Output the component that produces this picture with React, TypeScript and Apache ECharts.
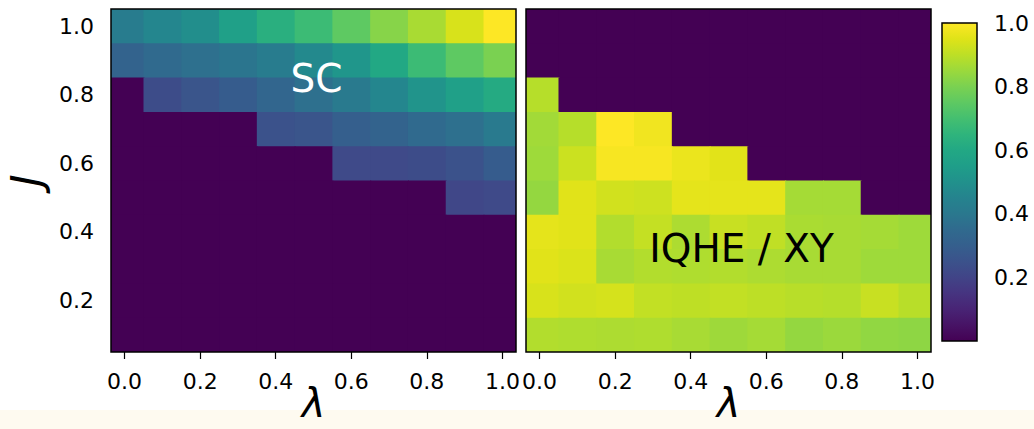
import React, { useEffect, useRef } from 'react';
import * as echarts from 'echarts';

const LAMBDA = [0.0, 0.1, 0.2, 0.3, 0.4, 0.5, 0.6, 0.7, 0.8, 0.9, 1.0];
const J_ROWS = [1.0, 0.9, 0.8, 0.7, 0.6, 0.5, 0.4, 0.3, 0.2, 0.1];

// rows follow J_ROWS (top to bottom), columns follow LAMBDA
const SC_VALUES = [
  [0.42, 0.46, 0.49, 0.56, 0.63, 0.68, 0.75, 0.82, 0.87, 0.94, 1.00],
  [0.32, 0.35, 0.37, 0.39, 0.42, 0.47, 0.52, 0.60, 0.68, 0.75, 0.80],
  [0.00, 0.23, 0.26, 0.29, 0.33, 0.37, 0.41, 0.46, 0.51, 0.56, 0.61],
  [0.00, 0.00, 0.00, 0.00, 0.25, 0.26, 0.30, 0.32, 0.35, 0.37, 0.41],
  [0.00, 0.00, 0.00, 0.00, 0.00, 0.00, 0.22, 0.22, 0.23, 0.25, 0.29],
  [0.00, 0.00, 0.00, 0.00, 0.00, 0.00, 0.00, 0.00, 0.00, 0.21, 0.22],
  [0.00, 0.00, 0.00, 0.00, 0.00, 0.00, 0.00, 0.00, 0.00, 0.00, 0.00],
  [0.00, 0.00, 0.00, 0.00, 0.00, 0.00, 0.00, 0.00, 0.00, 0.00, 0.00],
  [0.00, 0.00, 0.00, 0.00, 0.00, 0.00, 0.00, 0.00, 0.00, 0.00, 0.00],
  [0.00, 0.00, 0.00, 0.00, 0.00, 0.00, 0.00, 0.00, 0.00, 0.00, 0.00],
];

const IQHE_VALUES = [
  [0.00, 0.00, 0.00, 0.00, 0.00, 0.00, 0.00, 0.00, 0.00, 0.00, 0.00],
  [0.00, 0.00, 0.00, 0.00, 0.00, 0.00, 0.00, 0.00, 0.00, 0.00, 0.00],
  [0.89, 0.00, 0.00, 0.00, 0.00, 0.00, 0.00, 0.00, 0.00, 0.00, 0.00],
  [0.86, 0.89, 1.00, 0.98, 0.00, 0.00, 0.00, 0.00, 0.00, 0.00, 0.00],
  [0.855, 0.92, 0.99, 0.99, 0.97, 0.955, 0.00, 0.00, 0.00, 0.00, 0.00],
  [0.84, 0.953, 0.93, 0.923, 0.96, 0.96, 0.96, 0.864, 0.864, 0.00, 0.00],
  [0.96, 0.953, 0.884, 0.91, 0.876, 0.916, 0.904, 0.872, 0.869, 0.864, 0.855],
  [0.953, 0.944, 0.869, 0.884, 0.88, 0.884, 0.876, 0.869, 0.869, 0.855, 0.855],
  [0.94, 0.93, 0.935, 0.907, 0.902, 0.907, 0.90, 0.893, 0.888, 0.916, 0.893],
  [0.884, 0.88, 0.876, 0.88, 0.869, 0.854, 0.864, 0.84, 0.85, 0.835, 0.83],
];

const X_TICKS = [0.0, 0.2, 0.4, 0.6, 0.8, 1.0];
const J_TICKS = [0.2, 0.4, 0.6, 0.8, 1.0];
const CBAR_TICKS = [0.2, 0.4, 0.6, 0.8, 1.0];
const CBAR_RANGE = [0, 1];

const VIRIDIS = [
  '#440154', '#471365', '#482475', '#463480', '#414487', '#3b528b', '#355f8d',
  '#306a8e', '#2a788e', '#25838e', '#21918c', '#1f9e89', '#22a884', '#2fb47c',
  '#44bf70', '#5ec962', '#7ad151', '#9bd93c', '#bddf26', '#dfe318', '#fde725',
];

const FONT = 'DejaVu Sans';

function toCells(values: number[][]) {
  const out: number[][] = [];
  values.forEach((row, r) => {
    row.forEach((v, c) => out.push([LAMBDA[c], J_ROWS[r], v]));
  });
  return out;
}

const DX = LAMBDA[1] - LAMBDA[0];
const DY = J_ROWS[0] - J_ROWS[1];

function renderCell(params: any, api: any) {
  const x = api.value(0);
  const y = api.value(1);
  const p0 = api.coord([x - DX / 2, y + DY / 2]);
  const p1 = api.coord([x + DX / 2, y - DY / 2]);
  const cs = params.coordSys;
  // overlap by one pixel to the right and below to hide anti-aliasing seams
  const shape = echarts.graphic.clipRectByRect(
    { x: p0[0], y: p0[1], width: p1[0] - p0[0] + 1, height: p1[1] - p0[1] + 1 },
    { x: cs.x, y: cs.y, width: cs.width, height: cs.height }
  );
  if (!shape) return null;
  const c = api.visual('color');
  return { type: 'rect', shape, style: { fill: c } };
}

function renderColorbar(params: any, api: any) {
  const lo = api.value(0);
  const hi = api.value(1);
  const p0 = api.coord([0, hi]);
  const p1 = api.coord([1, lo]);
  const stops = VIRIDIS.map((color, i) => ({ offset: i / (VIRIDIS.length - 1), color }));
  return {
    type: 'rect',
    shape: { x: p0[0], y: p0[1], width: p1[0] - p0[0], height: p1[1] - p0[1] },
    style: {
      fill: new echarts.graphic.LinearGradient(0, 1, 0, 0, stops),
      stroke: '#000',
      lineWidth: 1.5,
    },
  };
}

const fmt = (v: number) => v.toFixed(1);

function xAxis(gridIndex: number) {
  return {
    type: 'value',
    gridIndex,
    min: -0.036,
    max: 1.036,
    axisLine: { show: false },
    axisTick: { show: true, customValues: X_TICKS, length: 7, lineStyle: { color: '#000', width: 1.2 } },
    axisLabel: { customValues: X_TICKS, formatter: fmt, fontSize: 22, color: '#000', fontFamily: FONT, margin: 18 },
    splitLine: { show: false },
    name: 'λ',
    nameLocation: 'middle',
    nameGap: 31,
    nameMoveOverlap: false,
    nameTextStyle: { fontSize: 40, fontStyle: 'italic', fontFamily: FONT, color: '#000' },
  };
}

function yAxis(gridIndex: number, withLabels: boolean) {
  return {
    type: 'value',
    gridIndex,
    min: 0.05,
    max: 1.05,
    axisLine: { show: false },
    axisTick: { show: true, customValues: J_TICKS, length: 7, lineStyle: { color: '#000', width: 1.2 } },
    axisLabel: { show: withLabels, customValues: J_TICKS, formatter: fmt, fontSize: 22, color: '#000', fontFamily: FONT, margin: 17 },
    splitLine: { show: false },
    ...(withLabels
      ? {
          name: 'J',
          nameLocation: 'middle',
          nameRotate: 90,
          nameGap: 64,
          nameTextStyle: { fontSize: 42, fontStyle: 'italic', fontFamily: FONT, color: '#000' },
        }
      : {}),
  };
}

export default function App() {
  const ref = useRef<HTMLDivElement>(null);

  useEffect(() => {
    document.body.style.margin = '0';
    const chart = echarts.init(ref.current!, null, { renderer: 'svg' });
    const gridStyle = {
      show: true,
      z: 10,
      borderColor: '#000',
      borderWidth: 1.5,
      backgroundColor: 'transparent',
      containLabel: false,
      outerBoundsMode: 'none',
    };
    chart.setOption({
      animation: false,
      backgroundColor: '#fff',
      textStyle: { fontFamily: FONT },
      grid: [
        { ...gridStyle, left: 111, top: 9, width: 405, height: 343 },
        { ...gridStyle, left: 526, top: 9, width: 405, height: 343 },
        { show: false, containLabel: false, outerBoundsMode: 'none', left: 942, top: 23, width: 35, height: 318 },
      ],
      xAxis: [
        xAxis(0),
        xAxis(1),
        { type: 'value', gridIndex: 2, min: 0, max: 1, show: false },
      ],
      yAxis: [
        yAxis(0, true),
        yAxis(1, false),
        {
          type: 'value',
          gridIndex: 2,
          min: CBAR_RANGE[0],
          max: CBAR_RANGE[1],
          position: 'right',
          axisLine: { show: false },
          axisTick: { show: true, customValues: CBAR_TICKS, length: 6, lineStyle: { color: '#000', width: 1.2 } },
          axisLabel: { customValues: CBAR_TICKS, formatter: fmt, fontSize: 22, color: '#000', fontFamily: FONT, margin: 17 },
          splitLine: { show: false },
        },
      ],
      visualMap: {
        type: 'continuous',
        show: false,
        min: 0,
        max: 1,
        dimension: 2,
        seriesIndex: [0, 1],
        inRange: { color: VIRIDIS },
      },
      series: [
        {
          type: 'custom',
          xAxisIndex: 0,
          yAxisIndex: 0,
          renderItem: renderCell,
          encode: { x: 0, y: 1 },
          data: toCells(SC_VALUES),
        },
        {
          type: 'custom',
          xAxisIndex: 1,
          yAxisIndex: 1,
          renderItem: renderCell,
          encode: { x: 0, y: 1 },
          data: toCells(IQHE_VALUES),
        },
        {
          type: 'custom',
          xAxisIndex: 2,
          yAxisIndex: 2,
          renderItem: renderColorbar,
          data: [CBAR_RANGE],
        },
      ],
      graphic: [
        {
          type: 'rect',
          left: 0,
          top: 410,
          z: -10,
          shape: { width: 1034, height: 19 },
          style: { fill: '#fefaf0' },
        },
        {
          type: 'text',
          x: 316.5,
          y: 78,
          z: 50,
          style: { text: 'SC', fill: '#fff', fontSize: 39, fontFamily: FONT, align: 'center', verticalAlign: 'middle' },
        },
        {
          type: 'text',
          x: 741.5,
          y: 248,
          z: 50,
          style: { text: 'IQHE / XY', fill: '#000', fontSize: 39, fontFamily: FONT, align: 'center', verticalAlign: 'middle' },
        },
      ],
    });
    return () => chart.dispose();
  }, []);

  return <div ref={ref} style={{ width: 1034, height: 429 }} />;
}
